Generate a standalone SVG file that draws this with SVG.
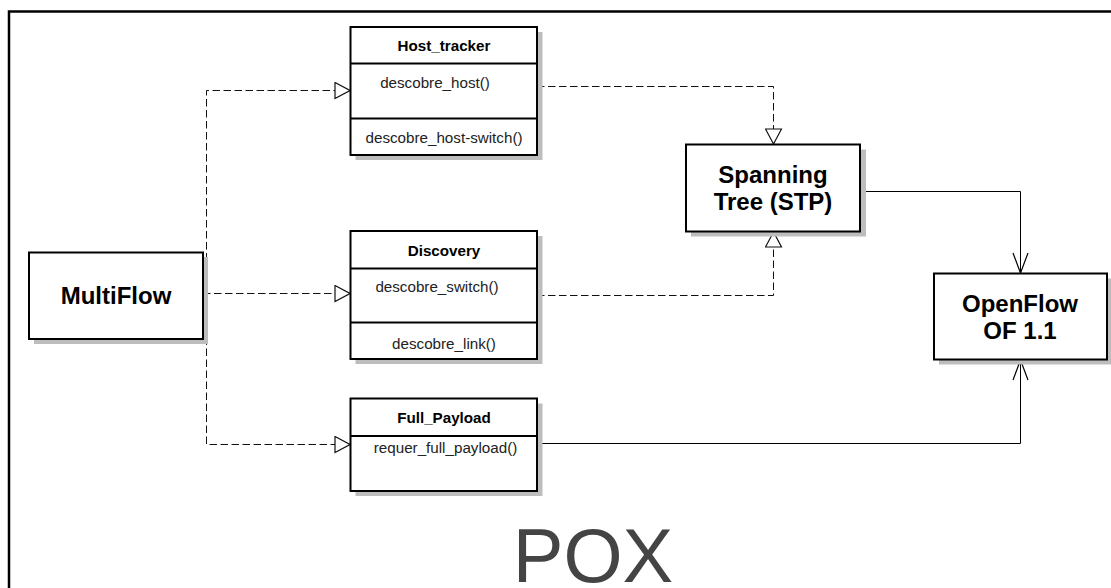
<svg xmlns="http://www.w3.org/2000/svg" width="1111" height="588" viewBox="0 0 1111 588">
<style>
.box{fill:#fff;stroke:#000;stroke-width:2}
.shadow{fill:#bdbdbd}
.sh-line{stroke:#bdbdbd;stroke-width:1}
.div{stroke:#000;stroke-width:2}
.title{font-family:"Liberation Sans",Arial,sans-serif;font-weight:bold;font-size:15.2px;fill:#000;text-anchor:middle}
.meth{font-family:"Liberation Sans",Arial,sans-serif;font-size:15.2px;fill:#222;text-anchor:middle}
.big{font-family:"Liberation Sans",Arial,sans-serif;font-weight:bold;font-size:24px;fill:#000;text-anchor:middle}
.dash{fill:none;stroke:#111;stroke-width:1;stroke-dasharray:7.5 3.5}
.solid{fill:none;stroke:#000;stroke-width:1}
</style>
<defs>
<marker id="tri" markerUnits="userSpaceOnUse" viewBox="0 0 17 18" refX="16" refY="9" markerWidth="17" markerHeight="18" orient="auto">
<path d="M1,1 L16,9 L1,17 Z" fill="#fff" stroke="#111" stroke-width="1.2"/>
</marker>
<marker id="vee" markerUnits="userSpaceOnUse" viewBox="0 0 22 18" refX="21" refY="9" markerWidth="22" markerHeight="18" orient="auto">
<path d="M1,1.5 L21,9 L1,16.5" fill="none" stroke="#000" stroke-width="1.2"/>
</marker>
</defs>
<rect x="9" y="11.5" width="1200" height="700" fill="#fff" stroke="#000" stroke-width="2.5"/>
<g id="connectors">
<path class="dash" d="M203,293.5 H350" marker-end="url(#tri)"/>
<path class="dash" d="M206.5,293.5 V90.5 H350" marker-end="url(#tri)"/>
<path class="dash" d="M206.5,293.5 V444.5 H350" marker-end="url(#tri)"/>
<path class="dash" d="M537,86.5 H773.5 V144" marker-end="url(#tri)"/>
<path class="dash" d="M537,295.5 H773.5 V232" marker-end="url(#tri)"/>
<path class="solid" d="M861,191.5 H1020.5 V273" marker-end="url(#vee)"/>
<path class="solid" d="M538,443.5 H1020.5 V360" marker-end="url(#vee)"/>
</g>
<g id="multiflow">
<rect class="shadow" x="34" y="257" width="174" height="87"/>
<rect class="box" x="29" y="252.5" width="174" height="86.5"/>
<text class="big" x="116" y="304">MultiFlow</text>
</g>
<g id="host_tracker">
<rect class="shadow" x="355.5" y="32" width="187" height="128"/>
<rect class="box" x="350.5" y="27" width="186.5" height="128"/>
<line class="div" x1="350.5" y1="63.5" x2="537" y2="63.5"/>
<line class="div" x1="350.5" y1="118.5" x2="537" y2="118.5"/>
<line class="sh-line" x1="538" y1="68.5" x2="542" y2="68.5"/>
<line class="sh-line" x1="538" y1="123.5" x2="542" y2="123.5"/>
<text class="title" x="444" y="51">Host_tracker</text>
<text class="meth" x="435" y="88">descobre_host()</text>
<text class="meth" x="444" y="143">descobre_host-switch()</text>
</g>
<g id="discovery">
<rect class="shadow" x="355.5" y="236" width="187" height="128"/>
<rect class="box" x="350.5" y="231" width="186.5" height="128"/>
<line class="div" x1="350.5" y1="268.5" x2="537" y2="268.5"/>
<line class="div" x1="350.5" y1="322.5" x2="537" y2="322.5"/>
<line class="sh-line" x1="538" y1="273.5" x2="542" y2="273.5"/>
<line class="sh-line" x1="538" y1="327.5" x2="542" y2="327.5"/>
<text class="title" x="444" y="255.5">Discovery</text>
<text class="meth" x="437" y="292">descobre_switch()</text>
<text class="meth" x="444" y="348.5">descobre_link()</text>
</g>
<g id="full_payload">
<rect class="shadow" x="355.5" y="403.5" width="187" height="92.5"/>
<rect class="box" x="350.5" y="398.5" width="186.5" height="92.5"/>
<line class="div" x1="350.5" y1="436" x2="537" y2="436"/>
<line class="sh-line" x1="538" y1="441" x2="542" y2="441"/>
<text class="title" x="444" y="423">Full_Payload</text>
<text class="meth" x="445.5" y="452.5">requer_full_payload()</text>
</g>
<g id="stp">
<rect class="shadow" x="691" y="149.5" width="175" height="87"/>
<rect class="box" x="686" y="144.5" width="174" height="87"/>
<text class="big" x="773" y="183">Spanning</text>
<text class="big" x="773" y="210">Tree (STP)</text>
</g>
<g id="openflow">
<rect class="shadow" x="939" y="278.5" width="173" height="86"/>
<rect class="box" x="934" y="273.5" width="173" height="86"/>
<text class="big" x="1020" y="311.5">OpenFlow</text>
<text class="big" x="1020" y="339">OF 1.1</text>
</g>
<text x="593" y="581.5" font-family="'Liberation Sans',Arial,sans-serif" font-size="76" fill="#444" text-anchor="middle">POX</text>
</svg>
